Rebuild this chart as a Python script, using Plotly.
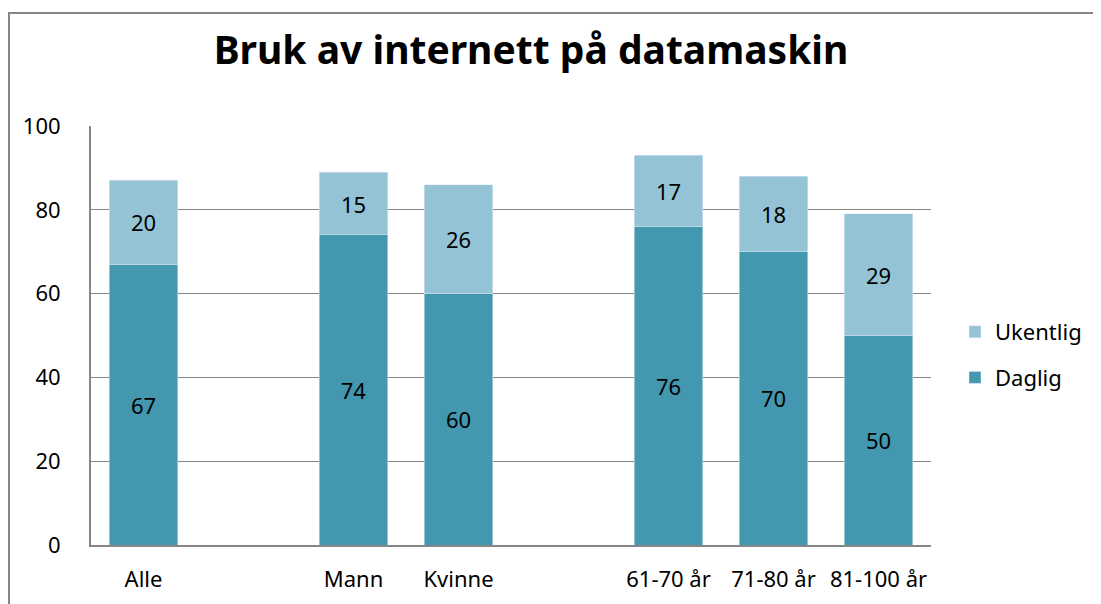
import plotly.graph_objects as go

categories = ["Alle", " ", "Mann", "Kvinne", "  ", "61-70 år", "71-80 år", "81-100 år"]
daglig = [67, None, 74, 60, None, 76, 70, 50]
ukentlig = [20, None, 15, 26, None, 17, 18, 29]

font_family = "'Noto Sans', 'Open Sans', sans-serif"
fig = go.Figure()
fig.add_trace(go.Bar(x=categories, y=daglig, name="Daglig", marker_color="#4398B0",
                     legendgroup="d", legendrank=2, text=daglig, textposition="inside",
                     insidetextanchor="middle",
                     textfont=dict(color="black", size=22, family=font_family)))
fig.add_trace(go.Bar(x=categories, y=ukentlig, name="Ukentlig", marker_color="#93C3D5",
                     legendgroup="u", legendrank=1, text=ukentlig, textposition="inside",
                     insidetextanchor="middle",
                     textfont=dict(color="black", size=22, family=font_family)))

# page offset of 8px (body margin)
OFF = 8
FW, FH = 1101 - OFF, 604 - OFF
L, T, R, B = 91 - OFF, 126 - OFF, 931 - OFF, 545 - OFF
W0, H0 = R - L, B - T
def px(x): return (x - OFF - L) / W0
def py(y): return (B - (y - OFF)) / H0

fig.update_layout(
    width=FW, height=FH,
    barmode="stack", bargap=0.35,
    margin=dict(l=L, r=FW - R, t=T, b=FH - B, autoexpand=False),
    paper_bgcolor="white", plot_bgcolor="white",
    font=dict(family=font_family, size=22, color="black"),
    title=dict(text="<b>Bruk av internett på datamaskin</b>", x=(531 - OFF) / FW, xanchor="center",
               y=1 - (50 - OFF) / FH, yanchor="middle", font=dict(size=39, family=font_family)),
    showlegend=True,
    legend=dict(traceorder="grouped", x=px(955), y=py(355), yanchor="middle", xanchor="left",
                font=dict(size=22), itemwidth=30, tracegroupgap=14, bgcolor="rgba(0,0,0,0)"),
    xaxis=dict(showline=True, linecolor="#868686", linewidth=2, ticks="", tickfont=dict(size=22),
               ticklabelstandoff=14),
    yaxis=dict(range=[0, 100], dtick=20, showgrid=True, gridcolor="#868686", gridwidth=1,
               showline=True, linecolor="#868686", linewidth=2, ticks="", ticklen=0,
               tickfont=dict(size=22), ticklabelstandoff=24, zeroline=False),
    shapes=[dict(type="rect", xref="paper", yref="paper", x0=px(9), x1=px(1130), y0=py(650), y1=py(13),
                 line=dict(color="#868686", width=2), layer="below")],
)
fig.write_html("out.html")
